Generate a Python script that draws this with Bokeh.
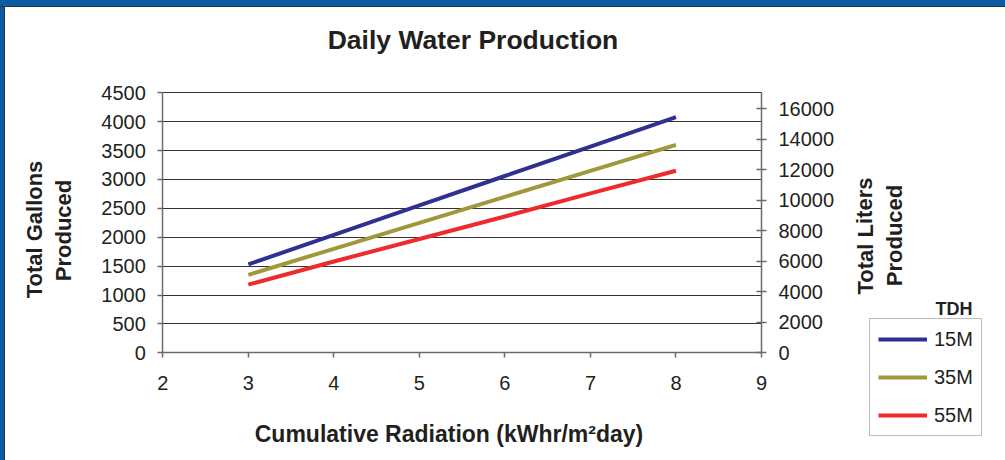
from bokeh.plotting import figure
from bokeh.models import Range1d, LinearAxis, FixedTicker, Legend, LegendItem, Label, Grid
from bokeh.embed import file_html
from bokeh.resources import INLINE

# ---- data ----
radiation = [3, 4, 5, 6, 7, 8]
gallons_15m = [1530, 2040, 2550, 3060, 3570, 4080]
gallons_35m = [1350, 1800, 2250, 2700, 3150, 3600]
gallons_55m = [1180, 1580, 1970, 2360, 2760, 3150]
series_names = ["15M", "35M", "55M"]
series_colors = ["#2E3192", "#A0983A", "#EE2A2D"]

x_ticks = [2, 3, 4, 5, 6, 7, 8, 9]
gallon_ticks = [0, 500, 1000, 1500, 2000, 2500, 3000, 3500, 4000, 4500]
liter_ticks = [0, 2000, 4000, 6000, 8000, 10000, 12000, 14000, 16000]
LITERS_PER_GALLON = 3.7854

# ---- layout (pixels on the page) ----
W, H = 1005, 460
PX_L, PX_R, PX_T, PX_B = 162.3, 761.0, 92.3, 352.3
X0, X1 = x_ticks[0], x_ticks[-1]
Y0, Y1 = gallon_ticks[0], gallon_ticks[-1]
XPX = (PX_R - PX_L) / (X1 - X0)
YPX = (PX_B - PX_T) / (Y1 - Y0)

def dx(px):
    return X0 + (px - PX_L) / XPX

def dy(py):
    return Y0 + (PX_B - py) / YPX

FONT = "Liberation Sans"
TXT = "#231F20"

p = figure(width=W, height=H, output_backend="svg", toolbar_location=None,
           x_axis_type=None, y_axis_type=None,
           x_range=Range1d(dx(0), dx(W)), y_range=Range1d(dy(H), dy(0)),
           min_border_left=0, min_border_right=0, min_border_top=0, min_border_bottom=0)
p.outline_line_color = None
p.background_fill_alpha = 0
p.border_fill_alpha = 0

p.extra_y_ranges = {"liters": Range1d(dy(H) * LITERS_PER_GALLON, dy(0) * LITERS_PER_GALLON)}

# horizontal grid lines across the plot area only
g = Grid(dimension=1, ticker=FixedTicker(ticks=gallon_ticks),
         grid_line_color="#333333", grid_line_width=1)
if "cross_bounds" in g.properties():
    g.cross_bounds = (X0, X1)
    p.add_layout(g, "center")
else:
    p.segment(x0=[X0] * len(gallon_ticks), x1=[X1] * len(gallon_ticks),
              y0=gallon_ticks, y1=gallon_ticks, line_color="#333333", line_width=1)

def style_axis(ax):
    ax.axis_line_color = "#6b6b6b"
    ax.axis_line_width = 1.5
    ax.major_tick_line_color = "#6b6b6b"
    ax.major_tick_line_width = 1.5
    ax.minor_tick_line_color = None
    ax.major_label_text_font = FONT
    ax.major_label_text_font_size = "20px"
    ax.major_label_text_color = TXT

xa = LinearAxis(ticker=FixedTicker(ticks=x_ticks), fixed_location=Y0, bounds=(X0, X1))
style_axis(xa)
xa.major_tick_in = 0
xa.major_tick_out = 5
xa.major_label_standoff = 18
p.add_layout(xa, "below")

ya = LinearAxis(ticker=FixedTicker(ticks=gallon_ticks), fixed_location=X0, bounds=(Y0, Y1))
style_axis(ya)
ya.major_tick_in = 0
ya.major_tick_out = 5
ya.major_label_standoff = 12
p.add_layout(ya, "left")

ra = LinearAxis(y_range_name="liters", ticker=FixedTicker(ticks=liter_ticks), fixed_location=X1,
                bounds=(Y0 * LITERS_PER_GALLON, Y1 * LITERS_PER_GALLON))
style_axis(ra)
ra.major_tick_in = 5
ra.major_tick_out = 5
ra.major_label_standoff = 12
p.add_layout(ra, "right")

# lines
renderers = []
for vals, col in zip([gallons_15m, gallons_35m, gallons_55m], series_colors):
    r = p.line(radiation, vals, line_color=col, line_width=4)
    renderers.append(r)

legend = Legend(items=[LegendItem(label=n, renderers=[r]) for n, r in zip(series_names, renderers)],
                location=(869, H - 436))
legend.label_text_font = FONT
legend.label_text_font_size = "20px"
legend.label_text_color = TXT
legend.glyph_width = 49
legend.glyph_height = 24
legend.label_height = 24
legend.label_standoff = 7
legend.spacing = 14
legend.padding = 8
legend.margin = 0
legend.border_line_color = "#7a7a7a"
legend.border_line_width = 1.5
legend.background_fill_color = "white"
legend.background_fill_alpha = 1
p.add_layout(legend, "center")

def add_text(px, py, text, size, angle=0.0):
    p.add_layout(Label(x=dx(px), y=dy(py), text=text, text_font=FONT, text_font_size=size,
                       text_font_style="bold", text_color=TXT,
                       text_align="center", text_baseline="middle", angle=angle))

add_text(472.5, 39, "Daily Water Production", "26.5px")
add_text(448.5, 433, "Cumulative Radiation (kWhr/m\u00b2day)", "23px")
add_text(34, 229, "Total Gallons", "22px", angle=1.5708)
add_text(63, 230, "Produced", "22px", angle=1.5708)
add_text(864.5, 235.5, "Total Liters", "22px", angle=1.5708)
add_text(894, 235, "Produced", "22px", angle=1.5708)
add_text(953.5, 308, "TDH", "18px")

html = file_html(p, INLINE)
style = ("<style>html{background:"
         "linear-gradient(#0B5CA2,#0B5CA2) top left/100% 6px no-repeat,"
         "linear-gradient(#2a3440,#2a3440) left 6px/100% 1px no-repeat,"
         "linear-gradient(#0B5CA2,#0B5CA2) top left/4px 100% no-repeat,"
         "linear-gradient(#2a3440,#2a3440) 4px 0/1px 100% no-repeat,"
         "white;}</style>")
html = html.replace("</head>", style + "</head>", 1)
open("out.html", "w").write(html)
